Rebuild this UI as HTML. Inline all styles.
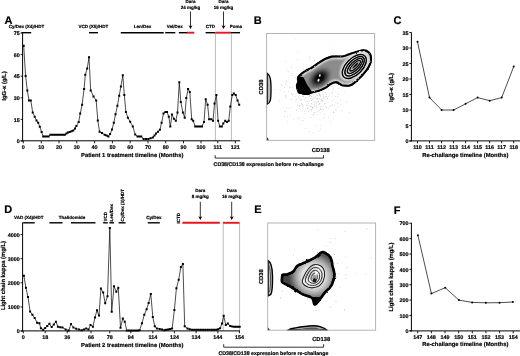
<!DOCTYPE html>
<html><head><meta charset="utf-8"><title>Figure</title>
<style>
html,body{margin:0;padding:0;background:#fff;}
body{width:520px;height:356px;overflow:hidden;}
text{stroke:#000;stroke-width:0.18px;}
svg{display:block;will-change:transform;text-rendering:geometricPrecision;font-family:"Liberation Sans",sans-serif;}
</style></head><body>
<svg width="520" height="356" viewBox="0 0 520 356">
<defs>
<radialGradient id="gCore"><stop offset="0" stop-color="#000"/><stop offset="0.3" stop-color="#111"/><stop offset="0.6" stop-color="#555" stop-opacity="0.9"/><stop offset="1" stop-color="#8c8c8c" stop-opacity="0"/></radialGradient>
<radialGradient id="gNeck"><stop offset="0" stop-color="#707070"/><stop offset="0.5" stop-color="#909090"/><stop offset="1" stop-color="#ececec" stop-opacity="0"/></radialGradient>
<radialGradient id="gHalo"><stop offset="0" stop-color="#888"/><stop offset="0.7" stop-color="#999"/><stop offset="1" stop-color="#ececec" stop-opacity="0"/></radialGradient>
<radialGradient id="gBand"><stop offset="0" stop-color="#6a6a6a"/><stop offset="0.82" stop-color="#6e6e6e"/><stop offset="1" stop-color="#ddd"/></radialGradient>
<radialGradient id="gBandE"><stop offset="0" stop-color="#8a8a8a"/><stop offset="0.8" stop-color="#909090"/><stop offset="1" stop-color="#e8e8e8"/></radialGradient>
<radialGradient id="gR"><stop offset="0" stop-color="#666"/><stop offset="0.75" stop-color="#777"/><stop offset="1" stop-color="#bbb"/></radialGradient>
<radialGradient id="gR2"><stop offset="0" stop-color="#777"/><stop offset="0.8" stop-color="#888"/><stop offset="1" stop-color="#c4c4c4"/></radialGradient>
<radialGradient id="gE" gradientUnits="userSpaceOnUse" cx="313.5" cy="276.5" r="25"><stop offset="0" stop-color="#f2f2f2"/><stop offset="0.45" stop-color="#e2e2e2"/><stop offset="0.68" stop-color="#a8a8a8"/><stop offset="0.88" stop-color="#666"/><stop offset="1" stop-color="#444"/></radialGradient>
<filter id="b03" x="-10%" y="-10%" width="120%" height="120%"><feTurbulence type="fractalNoise" baseFrequency="0.22" numOctaves="2" seed="4" result="n"/><feDisplacementMap in="SourceGraphic" in2="n" scale="2.2" xChannelSelector="R" yChannelSelector="G" result="d"/><feGaussianBlur in="d" stdDeviation="0.3"/></filter>
<filter id="b035" x="-10%" y="-10%" width="120%" height="120%"><feGaussianBlur stdDeviation="0.35"/></filter>
<filter id="b05" x="-30%" y="-30%" width="160%" height="160%"><feGaussianBlur stdDeviation="0.5"/></filter>
<filter id="b1" x="-30%" y="-30%" width="160%" height="160%"><feGaussianBlur stdDeviation="1"/></filter>
<filter id="b15" x="-30%" y="-30%" width="160%" height="160%"><feGaussianBlur stdDeviation="1.6"/></filter>
<filter id="b2" x="-30%" y="-30%" width="160%" height="160%"><feGaussianBlur stdDeviation="2.2"/></filter>
</defs>
<rect width="520" height="356" fill="#fff"/>
<text x="8.5" y="23.8" font-size="11" text-anchor="middle" font-weight="bold">A</text>
<line x1="21.5" y1="32.7" x2="31.2" y2="32.7" stroke="#000" stroke-width="1.4"/>
<line x1="89" y1="32.7" x2="98" y2="32.7" stroke="#000" stroke-width="1.4"/>
<line x1="120.8" y1="32.7" x2="163.7" y2="32.7" stroke="#000" stroke-width="1.4"/>
<line x1="165.2" y1="32.7" x2="175.3" y2="32.7" stroke="#000" stroke-width="1.4"/>
<line x1="178.8" y1="32.7" x2="187" y2="32.7" stroke="#000" stroke-width="1.4"/>
<line x1="187" y1="32.7" x2="194.3" y2="32.7" stroke="#e8151b" stroke-width="1.9"/>
<line x1="205.6" y1="32.7" x2="215.4" y2="32.7" stroke="#000" stroke-width="1.4"/>
<line x1="215.4" y1="32.7" x2="231" y2="32.7" stroke="#e8151b" stroke-width="1.9"/>
<line x1="231" y1="32.7" x2="240" y2="32.7" stroke="#000" stroke-width="1.4"/>
<text x="26.5" y="28.1" font-size="4.5" text-anchor="middle" font-weight="bold">Cy/Dex (X4)/HDT</text>
<text x="93.3" y="28.1" font-size="4.5" text-anchor="middle" font-weight="bold">VCD (X5)/HDT</text>
<text x="142.6" y="28.1" font-size="4.5" text-anchor="middle" font-weight="bold">Len/Dex</text>
<text x="174.7" y="28.1" font-size="4.5" text-anchor="middle" font-weight="bold">Vel/Dex</text>
<text x="210.4" y="28.1" font-size="4.5" text-anchor="middle" font-weight="bold">CTD</text>
<text x="236" y="28.1" font-size="4.5" text-anchor="middle" font-weight="bold">Poma</text>
<text x="190.5" y="3.4" font-size="4.5" text-anchor="middle" font-weight="bold">Dara</text>
<text x="190.5" y="9.1" font-size="4.5" text-anchor="middle" font-weight="bold">24 mg/kg</text>
<text x="223.5" y="3.4" font-size="4.5" text-anchor="middle" font-weight="bold">Dara</text>
<text x="223.5" y="9.1" font-size="4.5" text-anchor="middle" font-weight="bold">16 mg/kg</text>
<line x1="190.5" y1="11.5" x2="190.5" y2="26.9" stroke="#000" stroke-width="0.8"/>
<path d="M188.5 25.299999999999997L190.5 28.9L192.5 25.299999999999997L190.5 26.299999999999997z" fill="#000"/>
<line x1="223.5" y1="11.5" x2="223.5" y2="26.9" stroke="#000" stroke-width="0.8"/>
<path d="M221.5 25.299999999999997L223.5 28.9L225.5 25.299999999999997L223.5 26.299999999999997z" fill="#000"/>
<line x1="215.4" y1="33" x2="215.4" y2="141" stroke="#777" stroke-width="0.5"/>
<line x1="231.4" y1="33" x2="231.4" y2="141" stroke="#777" stroke-width="0.5"/>
<line x1="22.6" y1="32.2" x2="22.6" y2="141.3" stroke="#000" stroke-width="1"/>
<line x1="20.6" y1="140.8" x2="240.2" y2="140.8" stroke="#000" stroke-width="1"/>
<line x1="20.6" y1="141.0" x2="22.6" y2="141.0" stroke="#000" stroke-width="0.9"/>
<text x="19.8" y="143.2" font-size="5.4" text-anchor="end" font-weight="bold">0</text>
<line x1="20.6" y1="119.4" x2="22.6" y2="119.4" stroke="#000" stroke-width="0.9"/>
<text x="19.8" y="121.60000000000001" font-size="5.4" text-anchor="end" font-weight="bold">15</text>
<line x1="20.6" y1="97.80000000000001" x2="22.6" y2="97.80000000000001" stroke="#000" stroke-width="0.9"/>
<text x="19.8" y="100.00000000000001" font-size="5.4" text-anchor="end" font-weight="bold">30</text>
<line x1="20.6" y1="76.2" x2="22.6" y2="76.2" stroke="#000" stroke-width="0.9"/>
<text x="19.8" y="78.4" font-size="5.4" text-anchor="end" font-weight="bold">45</text>
<line x1="20.6" y1="54.60000000000001" x2="22.6" y2="54.60000000000001" stroke="#000" stroke-width="0.9"/>
<text x="19.8" y="56.80000000000001" font-size="5.4" text-anchor="end" font-weight="bold">60</text>
<line x1="20.6" y1="33.0" x2="22.6" y2="33.0" stroke="#000" stroke-width="0.9"/>
<text x="19.8" y="35.2" font-size="5.4" text-anchor="end" font-weight="bold">75</text>
<line x1="23.3" y1="141" x2="23.3" y2="143.3" stroke="#000" stroke-width="0.9"/>
<text x="23.3" y="149.1" font-size="5.4" text-anchor="middle" font-weight="bold">0</text>
<line x1="41.3" y1="141" x2="41.3" y2="143.3" stroke="#000" stroke-width="0.9"/>
<text x="41.3" y="149.1" font-size="5.4" text-anchor="middle" font-weight="bold">10</text>
<line x1="59" y1="141" x2="59" y2="143.3" stroke="#000" stroke-width="0.9"/>
<text x="59" y="149.1" font-size="5.4" text-anchor="middle" font-weight="bold">20</text>
<line x1="76.8" y1="141" x2="76.8" y2="143.3" stroke="#000" stroke-width="0.9"/>
<text x="76.8" y="149.1" font-size="5.4" text-anchor="middle" font-weight="bold">30</text>
<line x1="94.6" y1="141" x2="94.6" y2="143.3" stroke="#000" stroke-width="0.9"/>
<text x="94.6" y="149.1" font-size="5.4" text-anchor="middle" font-weight="bold">40</text>
<line x1="112.4" y1="141" x2="112.4" y2="143.3" stroke="#000" stroke-width="0.9"/>
<text x="112.4" y="149.1" font-size="5.4" text-anchor="middle" font-weight="bold">50</text>
<line x1="130.2" y1="141" x2="130.2" y2="143.3" stroke="#000" stroke-width="0.9"/>
<text x="130.2" y="149.1" font-size="5.4" text-anchor="middle" font-weight="bold">60</text>
<line x1="148" y1="141" x2="148" y2="143.3" stroke="#000" stroke-width="0.9"/>
<text x="148" y="149.1" font-size="5.4" text-anchor="middle" font-weight="bold">70</text>
<line x1="165.7" y1="141" x2="165.7" y2="143.3" stroke="#000" stroke-width="0.9"/>
<text x="165.7" y="149.1" font-size="5.4" text-anchor="middle" font-weight="bold">80</text>
<line x1="183.5" y1="141" x2="183.5" y2="143.3" stroke="#000" stroke-width="0.9"/>
<text x="183.5" y="149.1" font-size="5.4" text-anchor="middle" font-weight="bold">90</text>
<line x1="201" y1="141" x2="201" y2="143.3" stroke="#000" stroke-width="0.9"/>
<text x="201" y="149.1" font-size="5.4" text-anchor="middle" font-weight="bold">100</text>
<line x1="217.8" y1="141" x2="217.8" y2="143.3" stroke="#000" stroke-width="0.9"/>
<text x="217.8" y="149.1" font-size="5.4" text-anchor="middle" font-weight="bold">111</text>
<line x1="235.3" y1="141" x2="235.3" y2="143.3" stroke="#000" stroke-width="0.9"/>
<text x="235.3" y="149.1" font-size="5.4" text-anchor="middle" font-weight="bold">121</text>
<text x="132.2" y="156.8" font-size="5.83" text-anchor="middle" font-weight="bold">Patient 1 treatment timeline (Months)</text>
<text x="5.7" y="86" font-size="5.83" text-anchor="middle" font-weight="bold" transform="rotate(-90 5.7 86)">IgG-κ (g/L)</text>
<polyline fill="none" stroke="#000" stroke-width="0.7" stroke-linejoin="round" points="23.7,45.8 25.6,75.9 27.3,90.4 29.0,100.4 30.8,100.4 32.7,112.5 34.7,116.7 36.5,120.5 38.2,122.8 39.8,126.7 41.6,132.0 43.2,136.4 45.0,136.4 46.8,136.4 48.6,136.4 50.4,134.7 52.2,134.7 54.0,134.7 55.8,134.7 57.6,134.7 59.4,134.7 61.2,134.7 63.0,134.7 64.8,134.7 66.4,133.6 67.9,132.6 69.7,132.0 71.5,131.2 73.3,130.6 75.0,128.5 76.4,126.0 78.7,122.0 80.2,113.6 82.1,104.8 84.1,88.9 85.3,74.8 87.2,68.6 89.0,57.3 90.7,90.4 93.5,96.5 96.2,100.6 97.8,120.5 99.6,131.8 102.0,132.9 104.6,134.7 106.6,135.5 108.4,136.4 110.1,134.1 112.0,129.5 113.8,122.8 115.5,114.3 117.4,105.8 119.2,95.8 120.9,86.5 122.8,75.2 124.3,95.0 125.9,112.0 127.9,117.7 130.2,121.8 132.8,126.4 135.2,134.4 137.5,136.4 139.4,136.4 141.3,136.4 143.6,139.0 146.0,139.0 148.3,139.0 150.6,138.3 152.9,137.5 154.5,135.6 156.0,133.6 158.0,131.7 159.9,129.8 161.6,122.8 163.5,113.6 165.4,112.0 167.0,112.0 168.8,116.7 170.3,126.6 172.0,114.5 173.9,118.8 175.8,120.8 177.5,112.5 179.3,82.2 180.8,102.0 182.9,112.5 184.7,117.7 186.3,98.1 188.1,88.9 189.8,92.0 191.7,119.3 193.2,120.8 195.2,126.4 197.0,126.4 198.7,126.4 200.4,126.4 202.0,126.4 204.0,122.0 205.7,99.2 207.6,104.8 209.1,119.3 211.3,119.3 213.0,120.8 214.5,103.5 216.4,95.0 218.1,120.8 219.9,126.4 221.8,126.4 223.3,123.6 225.2,120.8 226.9,122.0 228.7,120.8 230.3,106.6 232.3,95.0 233.8,93.5 235.7,95.0 237.5,100.4 239.2,104.8"/>
<path d="M22.70 44.80h2.0v2.0h-2.0zM24.60 74.90h2.0v2.0h-2.0zM26.30 89.40h2.0v2.0h-2.0zM28.00 99.40h2.0v2.0h-2.0zM29.80 99.40h2.0v2.0h-2.0zM31.70 111.50h2.0v2.0h-2.0zM33.70 115.70h2.0v2.0h-2.0zM35.50 119.50h2.0v2.0h-2.0zM37.20 121.80h2.0v2.0h-2.0zM38.80 125.70h2.0v2.0h-2.0zM40.60 131.00h2.0v2.0h-2.0zM42.20 135.40h2.0v2.0h-2.0zM44.00 135.40h2.0v2.0h-2.0zM45.80 135.40h2.0v2.0h-2.0zM47.60 135.40h2.0v2.0h-2.0zM49.40 133.70h2.0v2.0h-2.0zM51.20 133.70h2.0v2.0h-2.0zM53.00 133.70h2.0v2.0h-2.0zM54.80 133.70h2.0v2.0h-2.0zM56.60 133.70h2.0v2.0h-2.0zM58.40 133.70h2.0v2.0h-2.0zM60.20 133.70h2.0v2.0h-2.0zM62.00 133.70h2.0v2.0h-2.0zM63.80 133.70h2.0v2.0h-2.0zM65.40 132.60h2.0v2.0h-2.0zM66.90 131.60h2.0v2.0h-2.0zM68.70 131.00h2.0v2.0h-2.0zM70.50 130.20h2.0v2.0h-2.0zM72.30 129.60h2.0v2.0h-2.0zM74.00 127.50h2.0v2.0h-2.0zM75.40 125.00h2.0v2.0h-2.0zM77.70 121.00h2.0v2.0h-2.0zM79.20 112.60h2.0v2.0h-2.0zM81.10 103.80h2.0v2.0h-2.0zM83.10 87.90h2.0v2.0h-2.0zM84.30 73.80h2.0v2.0h-2.0zM86.20 67.60h2.0v2.0h-2.0zM88.00 56.30h2.0v2.0h-2.0zM89.70 89.40h2.0v2.0h-2.0zM92.50 95.50h2.0v2.0h-2.0zM95.20 99.60h2.0v2.0h-2.0zM96.80 119.50h2.0v2.0h-2.0zM98.60 130.80h2.0v2.0h-2.0zM101.00 131.90h2.0v2.0h-2.0zM103.60 133.70h2.0v2.0h-2.0zM105.60 134.50h2.0v2.0h-2.0zM107.40 135.40h2.0v2.0h-2.0zM109.10 133.10h2.0v2.0h-2.0zM111.00 128.50h2.0v2.0h-2.0zM112.80 121.80h2.0v2.0h-2.0zM114.50 113.30h2.0v2.0h-2.0zM116.40 104.80h2.0v2.0h-2.0zM118.20 94.80h2.0v2.0h-2.0zM119.90 85.50h2.0v2.0h-2.0zM121.80 74.20h2.0v2.0h-2.0zM123.30 94.00h2.0v2.0h-2.0zM124.90 111.00h2.0v2.0h-2.0zM126.90 116.70h2.0v2.0h-2.0zM129.20 120.80h2.0v2.0h-2.0zM131.80 125.40h2.0v2.0h-2.0zM134.20 133.40h2.0v2.0h-2.0zM136.50 135.40h2.0v2.0h-2.0zM138.40 135.40h2.0v2.0h-2.0zM140.30 135.40h2.0v2.0h-2.0zM142.60 138.00h2.0v2.0h-2.0zM145.00 138.00h2.0v2.0h-2.0zM147.30 138.00h2.0v2.0h-2.0zM149.60 137.30h2.0v2.0h-2.0zM151.90 136.50h2.0v2.0h-2.0zM153.50 134.60h2.0v2.0h-2.0zM155.00 132.60h2.0v2.0h-2.0zM157.00 130.70h2.0v2.0h-2.0zM158.90 128.80h2.0v2.0h-2.0zM160.60 121.80h2.0v2.0h-2.0zM162.50 112.60h2.0v2.0h-2.0zM164.40 111.00h2.0v2.0h-2.0zM166.00 111.00h2.0v2.0h-2.0zM167.80 115.70h2.0v2.0h-2.0zM169.30 125.60h2.0v2.0h-2.0zM171.00 113.50h2.0v2.0h-2.0zM172.90 117.80h2.0v2.0h-2.0zM174.80 119.80h2.0v2.0h-2.0zM176.50 111.50h2.0v2.0h-2.0zM178.30 81.20h2.0v2.0h-2.0zM179.80 101.00h2.0v2.0h-2.0zM181.90 111.50h2.0v2.0h-2.0zM183.70 116.70h2.0v2.0h-2.0zM185.30 97.10h2.0v2.0h-2.0zM187.10 87.90h2.0v2.0h-2.0zM188.80 91.00h2.0v2.0h-2.0zM190.70 118.30h2.0v2.0h-2.0zM192.20 119.80h2.0v2.0h-2.0zM194.20 125.40h2.0v2.0h-2.0zM196.00 125.40h2.0v2.0h-2.0zM197.70 125.40h2.0v2.0h-2.0zM199.40 125.40h2.0v2.0h-2.0zM201.00 125.40h2.0v2.0h-2.0zM203.00 121.00h2.0v2.0h-2.0zM204.70 98.20h2.0v2.0h-2.0zM206.60 103.80h2.0v2.0h-2.0zM208.10 118.30h2.0v2.0h-2.0zM210.30 118.30h2.0v2.0h-2.0zM212.00 119.80h2.0v2.0h-2.0zM213.50 102.50h2.0v2.0h-2.0zM215.40 94.00h2.0v2.0h-2.0zM217.10 119.80h2.0v2.0h-2.0zM218.90 125.40h2.0v2.0h-2.0zM220.80 125.40h2.0v2.0h-2.0zM222.30 122.60h2.0v2.0h-2.0zM224.20 119.80h2.0v2.0h-2.0zM225.90 121.00h2.0v2.0h-2.0zM227.70 119.80h2.0v2.0h-2.0zM229.30 105.60h2.0v2.0h-2.0zM231.30 94.00h2.0v2.0h-2.0zM232.80 92.50h2.0v2.0h-2.0zM234.70 94.00h2.0v2.0h-2.0zM236.50 99.40h2.0v2.0h-2.0zM238.20 103.80h2.0v2.0h-2.0z" fill="#000"/>
<path d="M215.2 155.2V158.1H323.5V155.2" fill="none" stroke="#000" stroke-width="0.8"/>
<text x="268.6" y="166.2" font-size="5.24" text-anchor="middle" font-weight="bold">CD38/CD138 expression before re-challange</text>
<text x="257.8" y="23.6" font-size="11" text-anchor="middle" font-weight="bold">B</text>
<text x="320.8" y="152.1" font-size="5.8" text-anchor="middle" font-weight="bold">CD138</text>
<text x="262.8" y="87" font-size="5.8" text-anchor="middle" font-weight="bold" transform="rotate(-90 262.8 87)">CD38</text>
<g id="pB">
<path d="M308.4 103.2h.7v.7h-.7zM308.8 91.6h.7v.7h-.7zM299.0 93.0h.7v.7h-.7zM327.6 101.9h.7v.7h-.7zM326.5 99.5h.7v.7h-.7zM317.5 98.6h.7v.7h-.7zM288.7 108.0h.7v.7h-.7zM319.1 103.0h.7v.7h-.7zM288.3 71.6h.7v.7h-.7zM299.5 89.4h.7v.7h-.7zM316.3 95.4h.7v.7h-.7zM319.3 87.0h.7v.7h-.7zM316.3 101.5h.7v.7h-.7zM302.7 120.0h.7v.7h-.7zM319.8 112.8h.7v.7h-.7zM303.3 85.6h.7v.7h-.7zM307.2 94.5h.7v.7h-.7zM320.8 99.5h.7v.7h-.7zM305.7 82.6h.7v.7h-.7zM304.7 113.1h.7v.7h-.7zM300.7 99.4h.7v.7h-.7zM318.0 75.1h.7v.7h-.7zM312.7 114.3h.7v.7h-.7zM283.8 91.5h.7v.7h-.7zM310.5 84.6h.7v.7h-.7zM319.0 95.1h.7v.7h-.7zM291.5 107.6h.7v.7h-.7zM321.4 109.2h.7v.7h-.7zM332.2 101.1h.7v.7h-.7zM313.7 77.8h.7v.7h-.7zM320.6 87.4h.7v.7h-.7zM305.7 78.3h.7v.7h-.7zM298.5 88.6h.7v.7h-.7zM330.0 67.6h.7v.7h-.7zM291.6 99.4h.7v.7h-.7zM332.2 104.1h.7v.7h-.7zM285.4 60.7h.7v.7h-.7zM317.0 85.7h.7v.7h-.7zM296.3 109.7h.7v.7h-.7zM327.4 98.2h.7v.7h-.7zM315.4 102.1h.7v.7h-.7zM334.3 104.7h.7v.7h-.7zM319.3 103.7h.7v.7h-.7zM290.0 113.9h.7v.7h-.7zM325.4 103.4h.7v.7h-.7zM284.4 87.1h.7v.7h-.7zM323.8 70.6h.7v.7h-.7zM309.4 110.3h.7v.7h-.7zM293.6 118.5h.7v.7h-.7zM319.7 93.9h.7v.7h-.7zM316.5 105.1h.7v.7h-.7zM313.7 112.0h.7v.7h-.7zM302.7 90.2h.7v.7h-.7zM326.6 96.4h.7v.7h-.7zM299.7 109.3h.7v.7h-.7zM332.5 89.8h.7v.7h-.7zM292.7 94.1h.7v.7h-.7zM309.9 91.8h.7v.7h-.7zM331.7 81.6h.7v.7h-.7zM329.6 78.2h.7v.7h-.7zM301.0 104.8h.7v.7h-.7zM327.8 108.0h.7v.7h-.7zM316.8 98.0h.7v.7h-.7zM314.1 104.1h.7v.7h-.7zM309.5 99.9h.7v.7h-.7zM320.0 96.0h.7v.7h-.7zM322.7 103.9h.7v.7h-.7zM340.1 100.5h.7v.7h-.7zM306.0 90.8h.7v.7h-.7zM311.8 108.9h.7v.7h-.7zM307.3 101.4h.7v.7h-.7zM337.7 60.1h.7v.7h-.7zM296.3 99.4h.7v.7h-.7zM317.6 99.3h.7v.7h-.7zM306.0 105.2h.7v.7h-.7zM315.9 88.7h.7v.7h-.7zM346.0 101.0h.7v.7h-.7zM304.2 94.6h.7v.7h-.7zM308.8 95.1h.7v.7h-.7zM273.8 89.2h.7v.7h-.7zM326.1 79.6h.7v.7h-.7zM311.1 109.3h.7v.7h-.7zM324.0 116.9h.7v.7h-.7zM288.2 91.1h.7v.7h-.7zM307.2 104.7h.7v.7h-.7zM327.3 58.4h.7v.7h-.7zM327.2 75.7h.7v.7h-.7zM321.6 75.1h.7v.7h-.7zM314.5 112.7h.7v.7h-.7zM309.9 98.7h.7v.7h-.7zM323.2 98.0h.7v.7h-.7zM310.8 117.5h.7v.7h-.7zM326.7 91.9h.7v.7h-.7zM350.4 79.9h.7v.7h-.7zM324.8 92.3h.7v.7h-.7zM313.9 105.9h.7v.7h-.7zM315.1 104.9h.7v.7h-.7zM290.6 74.9h.7v.7h-.7zM320.6 82.5h.7v.7h-.7zM297.6 75.4h.7v.7h-.7zM329.7 106.5h.7v.7h-.7zM332.6 82.9h.7v.7h-.7zM312.0 80.0h.7v.7h-.7zM322.7 118.3h.7v.7h-.7zM299.5 117.8h.7v.7h-.7zM325.8 93.5h.7v.7h-.7zM284.4 115.7h.7v.7h-.7zM310.7 87.6h.7v.7h-.7zM317.6 101.7h.7v.7h-.7zM333.0 81.7h.7v.7h-.7zM327.9 116.8h.7v.7h-.7zM332.3 93.5h.7v.7h-.7zM301.6 110.3h.7v.7h-.7zM313.6 97.7h.7v.7h-.7zM331.9 92.3h.7v.7h-.7zM279.8 90.6h.7v.7h-.7zM286.0 107.5h.7v.7h-.7zM316.4 87.4h.7v.7h-.7zM311.9 107.7h.7v.7h-.7zM313.1 114.6h.7v.7h-.7zM311.1 110.6h.7v.7h-.7zM332.9 118.5h.7v.7h-.7zM302.6 108.3h.7v.7h-.7zM285.7 80.8h.7v.7h-.7zM284.5 111.0h.7v.7h-.7zM294.8 95.8h.7v.7h-.7zM309.3 95.6h.7v.7h-.7zM303.7 99.3h.7v.7h-.7zM337.1 96.6h.7v.7h-.7zM319.4 110.0h.7v.7h-.7zM309.2 78.4h.7v.7h-.7zM304.2 111.0h.7v.7h-.7zM289.0 87.6h.7v.7h-.7zM326.1 107.1h.7v.7h-.7zM312.1 107.3h.7v.7h-.7zM314.3 79.5h.7v.7h-.7zM290.1 87.1h.7v.7h-.7zM324.9 88.1h.7v.7h-.7zM299.4 85.2h.7v.7h-.7zM290.6 94.4h.7v.7h-.7zM295.5 101.1h.7v.7h-.7zM279.0 100.6h.7v.7h-.7zM303.0 68.8h.7v.7h-.7zM322.1 92.1h.7v.7h-.7zM280.8 83.7h.7v.7h-.7zM316.1 89.6h.7v.7h-.7zM322.9 106.5h.7v.7h-.7zM321.3 100.6h.7v.7h-.7zM330.7 105.2h.7v.7h-.7zM318.3 66.8h.7v.7h-.7zM324.6 114.3h.7v.7h-.7zM307.8 89.4h.7v.7h-.7zM339.2 71.4h.7v.7h-.7zM318.6 129.9h.7v.7h-.7zM299.0 105.7h.7v.7h-.7zM338.4 94.3h.7v.7h-.7zM319.9 108.6h.7v.7h-.7zM299.3 94.8h.7v.7h-.7zM316.1 107.6h.7v.7h-.7zM311.5 93.3h.7v.7h-.7zM297.8 91.0h.7v.7h-.7zM324.5 97.4h.7v.7h-.7zM300.1 84.2h.7v.7h-.7zM349.3 112.0h.7v.7h-.7zM320.9 59.7h.7v.7h-.7zM320.7 102.7h.7v.7h-.7zM335.6 102.0h.7v.7h-.7zM311.1 103.3h.7v.7h-.7zM284.8 110.5h.7v.7h-.7zM316.5 86.2h.7v.7h-.7zM330.6 121.3h.7v.7h-.7zM292.4 86.7h.7v.7h-.7zM316.1 98.6h.7v.7h-.7zM306.4 82.4h.7v.7h-.7zM341.7 110.5h.7v.7h-.7zM295.3 77.2h.7v.7h-.7zM335.8 109.8h.7v.7h-.7zM337.5 107.3h.7v.7h-.7zM299.8 99.6h.7v.7h-.7zM281.8 85.5h.7v.7h-.7zM311.2 103.3h.7v.7h-.7zM301.8 94.3h.7v.7h-.7zM318.4 101.3h.7v.7h-.7zM320.9 98.9h.7v.7h-.7zM307.5 107.0h.7v.7h-.7zM312.7 84.4h.7v.7h-.7zM303.2 96.0h.7v.7h-.7zM310.5 98.2h.7v.7h-.7zM312.0 98.5h.7v.7h-.7zM310.1 78.4h.7v.7h-.7zM317.9 110.8h.7v.7h-.7zM318.1 93.4h.7v.7h-.7zM318.3 82.5h.7v.7h-.7zM285.5 96.8h.7v.7h-.7zM299.0 106.4h.7v.7h-.7zM296.8 59.2h.7v.7h-.7zM297.4 118.1h.7v.7h-.7zM306.7 76.8h.7v.7h-.7zM301.3 103.3h.7v.7h-.7zM319.0 98.5h.7v.7h-.7zM332.8 105.9h.7v.7h-.7zM311.7 104.4h.7v.7h-.7zM335.2 109.6h.7v.7h-.7zM326.3 80.8h.7v.7h-.7zM309.9 106.2h.7v.7h-.7zM307.8 111.0h.7v.7h-.7zM320.3 108.7h.7v.7h-.7zM309.0 131.6h.7v.7h-.7zM329.4 93.0h.7v.7h-.7zM313.3 132.3h.7v.7h-.7zM307.2 108.2h.7v.7h-.7zM325.7 96.1h.7v.7h-.7zM295.7 98.6h.7v.7h-.7zM317.0 111.8h.7v.7h-.7zM323.0 96.3h.7v.7h-.7zM324.0 103.6h.7v.7h-.7zM314.9 96.8h.7v.7h-.7zM308.6 105.6h.7v.7h-.7zM297.2 87.2h.7v.7h-.7zM312.1 75.5h.7v.7h-.7zM305.9 67.9h.7v.7h-.7zM302.4 104.0h.7v.7h-.7zM319.9 95.2h.7v.7h-.7zM308.8 76.2h.7v.7h-.7zM337.6 103.2h.7v.7h-.7zM327.3 83.6h.7v.7h-.7zM309.4 70.5h.7v.7h-.7zM322.9 109.1h.7v.7h-.7zM285.4 95.3h.7v.7h-.7zM320.8 71.3h.7v.7h-.7zM286.4 81.1h.7v.7h-.7zM303.2 76.4h.7v.7h-.7zM312.4 99.5h.7v.7h-.7zM320.9 105.8h.7v.7h-.7zM333.0 112.3h.7v.7h-.7zM293.6 88.9h.7v.7h-.7zM297.2 80.9h.7v.7h-.7zM310.9 96.1h.7v.7h-.7zM318.9 73.8h.7v.7h-.7zM294.7 95.7h.7v.7h-.7zM309.2 91.6h.7v.7h-.7zM311.1 85.4h.7v.7h-.7zM321.8 101.0h.7v.7h-.7zM310.8 86.6h.7v.7h-.7zM309.6 57.9h.7v.7h-.7zM298.3 96.5h.7v.7h-.7zM290.9 98.8h.7v.7h-.7zM314.1 76.7h.7v.7h-.7zM308.5 91.6h.7v.7h-.7zM318.4 104.6h.7v.7h-.7zM311.5 84.1h.7v.7h-.7zM310.0 95.1h.7v.7h-.7zM322.3 100.1h.7v.7h-.7zM301.9 77.0h.7v.7h-.7zM306.8 85.6h.7v.7h-.7zM296.4 94.4h.7v.7h-.7zM305.1 97.5h.7v.7h-.7zM319.3 90.2h.7v.7h-.7zM344.5 91.5h.7v.7h-.7zM327.4 97.7h.7v.7h-.7zM327.6 62.7h.7v.7h-.7zM301.5 99.5h.7v.7h-.7zM320.4 128.7h.7v.7h-.7zM316.5 113.9h.7v.7h-.7zM322.7 109.3h.7v.7h-.7zM319.1 93.8h.7v.7h-.7zM319.1 80.9h.7v.7h-.7zM328.5 81.8h.7v.7h-.7zM315.5 125.7h.7v.7h-.7zM308.9 96.3h.7v.7h-.7zM328.3 96.4h.7v.7h-.7zM300.7 99.6h.7v.7h-.7zM320.1 105.9h.7v.7h-.7zM301.2 120.5h.7v.7h-.7zM335.3 96.3h.7v.7h-.7zM315.8 90.0h.7v.7h-.7zM331.8 86.1h.7v.7h-.7zM321.4 89.3h.7v.7h-.7zM302.3 106.1h.7v.7h-.7zM330.7 95.9h.7v.7h-.7zM302.5 107.4h.7v.7h-.7zM311.3 100.3h.7v.7h-.7zM333.3 111.8h.7v.7h-.7zM304.7 128.0h.7v.7h-.7zM312.0 107.0h.7v.7h-.7zM302.9 95.4h.7v.7h-.7zM287.5 121.0h.7v.7h-.7zM331.1 79.0h.7v.7h-.7zM290.9 73.3h.7v.7h-.7zM328.5 89.6h.7v.7h-.7zM311.2 91.6h.7v.7h-.7zM310.3 80.8h.7v.7h-.7zM312.3 75.9h.7v.7h-.7zM311.0 100.3h.7v.7h-.7zM318.5 92.8h.7v.7h-.7zM299.3 98.2h.7v.7h-.7zM305.2 117.9h.7v.7h-.7zM322.7 94.4h.7v.7h-.7zM305.4 86.2h.7v.7h-.7zM298.9 91.1h.7v.7h-.7zM316.1 103.2h.7v.7h-.7zM320.0 125.4h.7v.7h-.7zM302.1 96.2h.7v.7h-.7zM351.1 69.9h.7v.7h-.7zM304.7 98.4h.7v.7h-.7zM314.2 101.7h.7v.7h-.7zM308.7 101.1h.7v.7h-.7zM312.7 106.8h.7v.7h-.7zM285.5 83.6h.7v.7h-.7zM312.0 81.6h.7v.7h-.7zM297.4 104.8h.7v.7h-.7zM302.9 104.9h.7v.7h-.7zM322.4 100.3h.7v.7h-.7zM319.1 94.5h.7v.7h-.7zM292.3 95.6h.7v.7h-.7zM318.4 88.6h.7v.7h-.7zM310.6 106.5h.7v.7h-.7zM299.7 105.0h.7v.7h-.7zM338.1 88.2h.7v.7h-.7zM314.1 93.9h.7v.7h-.7zM333.6 100.4h.7v.7h-.7zM324.6 86.3h.7v.7h-.7zM311.8 95.9h.7v.7h-.7zM287.1 116.2h.7v.7h-.7zM324.6 71.5h.7v.7h-.7zM322.4 94.2h.7v.7h-.7zM318.3 101.1h.7v.7h-.7zM291.0 93.0h.7v.7h-.7zM332.9 88.0h.7v.7h-.7zM297.7 77.0h.7v.7h-.7zM293.1 75.4h.7v.7h-.7zM357.2 76.9h.7v.7h-.7zM325.4 105.7h.7v.7h-.7zM308.6 59.2h.7v.7h-.7zM331.6 78.8h.7v.7h-.7zM297.7 51.3h.7v.7h-.7zM326.4 74.0h.7v.7h-.7zM291.2 66.8h.7v.7h-.7zM308.1 77.4h.7v.7h-.7zM317.4 68.6h.7v.7h-.7zM312.2 86.9h.7v.7h-.7zM350.6 64.1h.7v.7h-.7zM338.6 57.9h.7v.7h-.7zM321.6 82.0h.7v.7h-.7zM353.3 63.9h.7v.7h-.7zM318.4 73.1h.7v.7h-.7zM287.0 70.3h.7v.7h-.7zM305.1 75.9h.7v.7h-.7zM295.1 38.4h.7v.7h-.7zM320.8 74.2h.7v.7h-.7zM307.9 84.2h.7v.7h-.7zM314.0 60.3h.7v.7h-.7zM330.5 44.9h.7v.7h-.7zM305.1 69.7h.7v.7h-.7zM338.7 67.4h.7v.7h-.7zM326.8 59.5h.7v.7h-.7zM326.6 96.6h.7v.7h-.7zM304.9 107.9h.7v.7h-.7zM305.8 70.3h.7v.7h-.7zM323.8 86.4h.7v.7h-.7zM292.8 36.4h.7v.7h-.7zM333.3 82.7h.7v.7h-.7zM333.7 112.1h.7v.7h-.7zM324.5 74.1h.7v.7h-.7zM340.4 75.9h.7v.7h-.7zM356.6 50.2h.7v.7h-.7zM337.9 64.0h.7v.7h-.7zM340.3 104.5h.7v.7h-.7zM319.9 65.9h.7v.7h-.7zM309.0 56.6h.7v.7h-.7zM306.1 80.2h.7v.7h-.7zM320.8 71.1h.7v.7h-.7zM316.2 84.6h.7v.7h-.7zM330.9 67.7h.7v.7h-.7zM334.6 67.6h.7v.7h-.7zM294.6 93.3h.7v.7h-.7zM330.2 54.7h.7v.7h-.7zM343.7 75.5h.7v.7h-.7zM285.6 95.8h.7v.7h-.7zM327.3 84.3h.7v.7h-.7zM324.4 67.6h.7v.7h-.7zM285.9 85.5h.7v.7h-.7zM320.7 65.4h.7v.7h-.7zM327.7 71.2h.7v.7h-.7zM334.9 64.1h.7v.7h-.7zM310.7 80.8h.7v.7h-.7zM349.4 64.2h.7v.7h-.7zM317.3 95.3h.7v.7h-.7z" fill="#555" opacity="0.38"/>
<path d="M297 86.5 C296.5 84 298.6 83.2 298.6 81.2 C298 79.6 297 78.2 299 76.2 C301 74 303.5 72.4 305.4 71.1 C307.5 69.8 309.2 69.3 311.1 68.3 C313.5 66.8 316 64.8 318.1 63.3 C320.5 61.8 322.8 60.2 325.1 59.1 C327.5 58 329.5 57 332.1 56.7 C336 56.3 340 56.9 343.5 56.4 C347 55.6 349 54.3 352 53.4 C355 52.4 358 51.3 361.5 50.6 C364.5 50.2 367 50.7 368.8 52.6 C370.6 54.5 371.2 57 371 59.8 C370.6 63.5 368.8 66.8 366.5 70 C364 73.6 360 77.8 356.3 81 C354 83.2 352 85.4 348.5 85.6 C346 85.7 344.2 85.5 342.2 85.2 C340 84.2 338.6 82.4 336.3 82 C334 82 332.4 82.8 330.7 83.9 C328.8 85.2 327 86.6 325.1 87.9 C322.8 89.2 320.6 90.2 318.1 90.9 C315.5 91.6 313.5 91.8 311.1 92.5 C309.6 93.4 308.5 94 306.9 93.9 C304.5 94.2 302 93.6 299.8 92.6 C298 91.2 297.3 89 297 86.5Z" fill="#000" stroke="#000" stroke-width="2.2" stroke-linejoin="round"/>
<clipPath id="cB"><path d="M297 86.5 C296.5 84 298.6 83.2 298.6 81.2 C298 79.6 297 78.2 299 76.2 C301 74 303.5 72.4 305.4 71.1 C307.5 69.8 309.2 69.3 311.1 68.3 C313.5 66.8 316 64.8 318.1 63.3 C320.5 61.8 322.8 60.2 325.1 59.1 C327.5 58 329.5 57 332.1 56.7 C336 56.3 340 56.9 343.5 56.4 C347 55.6 349 54.3 352 53.4 C355 52.4 358 51.3 361.5 50.6 C364.5 50.2 367 50.7 368.8 52.6 C370.6 54.5 371.2 57 371 59.8 C370.6 63.5 368.8 66.8 366.5 70 C364 73.6 360 77.8 356.3 81 C354 83.2 352 85.4 348.5 85.6 C346 85.7 344.2 85.5 342.2 85.2 C340 84.2 338.6 82.4 336.3 82 C334 82 332.4 82.8 330.7 83.9 C328.8 85.2 327 86.6 325.1 87.9 C322.8 89.2 320.6 90.2 318.1 90.9 C315.5 91.6 313.5 91.8 311.1 92.5 C309.6 93.4 308.5 94 306.9 93.9 C304.5 94.2 302 93.6 299.8 92.6 C298 91.2 297.3 89 297 86.5Z"/></clipPath>
<g clip-path="url(#cB)">
<rect x="290" y="45" width="90" height="55" fill="#e4e4e4"/>
<path d="M297 86.5 C296.5 84 298.6 83.2 298.6 81.2 C298 79.6 297 78.2 299 76.2 C301 74 303.5 72.4 305.4 71.1 C307.5 69.8 309.2 69.3 311.1 68.3 C313.5 66.8 316 64.8 318.1 63.3 C320.5 61.8 322.8 60.2 325.1 59.1 C327.5 58 329.5 57 332.1 56.7 C336 56.3 340 56.9 343.5 56.4 C347 55.6 349 54.3 352 53.4 C355 52.4 358 51.3 361.5 50.6 C364.5 50.2 367 50.7 368.8 52.6 C370.6 54.5 371.2 57 371 59.8 C370.6 63.5 368.8 66.8 366.5 70 C364 73.6 360 77.8 356.3 81 C354 83.2 352 85.4 348.5 85.6 C346 85.7 344.2 85.5 342.2 85.2 C340 84.2 338.6 82.4 336.3 82 C334 82 332.4 82.8 330.7 83.9 C328.8 85.2 327 86.6 325.1 87.9 C322.8 89.2 320.6 90.2 318.1 90.9 C315.5 91.6 313.5 91.8 311.1 92.5 C309.6 93.4 308.5 94 306.9 93.9 C304.5 94.2 302 93.6 299.8 92.6 C298 91.2 297.3 89 297 86.5Z" fill="#8c8c8c" stroke="#e4e4e4" stroke-width="4.6" filter="url(#b1)"/>
<ellipse cx="319.6" cy="78" rx="16" ry="11" transform="rotate(-38 319.6 78)" fill="url(#gCore)"/>
<path d="M294 74 L303.6 77.6 L307 84.5 L311.6 91 L312 97 L292 97Z" fill="#000" filter="url(#b05)"/>
<g filter="url(#b035)"><g transform="rotate(-45 354.3 66.5)">
<ellipse cx="354.3" cy="66.5" rx="17.5" ry="10.4" fill="#ececec" filter="url(#b1)"/>
<ellipse cx="354.3" cy="66.5" rx="14.8" ry="8.2" fill="#f0f0f0" stroke="#000" stroke-width="1.5"/>
<ellipse cx="354.5" cy="66.5" rx="13.5" ry="7.0" fill="url(#gBand)"/>
<ellipse cx="354.7" cy="66.5" rx="12.3" ry="6.0" fill="#eee" stroke="#000" stroke-width="1.45"/>
<ellipse cx="354.90000000000003" cy="66.5" rx="11.0" ry="4.9" fill="url(#gBand)"/>
<ellipse cx="355.1" cy="66.5" rx="9.8" ry="4.0" fill="#eaeaea" stroke="#000" stroke-width="1.4"/>
<ellipse cx="355.3" cy="66.5" rx="8.5" ry="3.0" fill="url(#gBand)"/>
<ellipse cx="355.5" cy="66.5" rx="7.0" ry="2.2" fill="#ddd" stroke="#000" stroke-width="1.3"/>
<ellipse cx="355.7" cy="66.5" rx="5.6" ry="1.3" fill="#8a8a8a"/>
<ellipse cx="355.8" cy="66.5" rx="3.6" ry="0.75" fill="#000"/>
</g></g>
<ellipse cx="318.5" cy="80.3" rx="0.95" ry="1.55" fill="#fff" transform="rotate(18 318.5 80.3)"/>
<ellipse cx="319.8" cy="75.5" rx="0.85" ry="1.2" fill="#fff" transform="rotate(20 319.8 75.5)"/>
</g>
<path d="M297 86.5 C296.5 84 298.6 83.2 298.6 81.2 C298 79.6 297 78.2 299 76.2 C301 74 303.5 72.4 305.4 71.1 C307.5 69.8 309.2 69.3 311.1 68.3 C313.5 66.8 316 64.8 318.1 63.3 C320.5 61.8 322.8 60.2 325.1 59.1 C327.5 58 329.5 57 332.1 56.7 C336 56.3 340 56.9 343.5 56.4 C347 55.6 349 54.3 352 53.4 C355 52.4 358 51.3 361.5 50.6 C364.5 50.2 367 50.7 368.8 52.6 C370.6 54.5 371.2 57 371 59.8 C370.6 63.5 368.8 66.8 366.5 70 C364 73.6 360 77.8 356.3 81 C354 83.2 352 85.4 348.5 85.6 C346 85.7 344.2 85.5 342.2 85.2 C340 84.2 338.6 82.4 336.3 82 C334 82 332.4 82.8 330.7 83.9 C328.8 85.2 327 86.6 325.1 87.9 C322.8 89.2 320.6 90.2 318.1 90.9 C315.5 91.6 313.5 91.8 311.1 92.5 C309.6 93.4 308.5 94 306.9 93.9 C304.5 94.2 302 93.6 299.8 92.6 C298 91.2 297.3 89 297 86.5Z" fill="none" stroke="#000" stroke-width="1.9" stroke-linejoin="round" filter="url(#b03)"/>
<path d="M267.2 73.2 C270 74.8 271 79 271 86 C271 92 271.3 97 270.2 100.6 C269.5 102.8 268.5 103.8 267.2 104.2Z" fill="#bbb" stroke="#000" stroke-width="1.3"/>
<path d="M267 137.3 L268.8 139.8 L267 140Z" fill="#000"/>
<rect x="266.6" y="33.5" width="108" height="106.9" fill="none" stroke="#b4b4b4" stroke-width="1.0"/>
</g>
<text x="397.4" y="23.9" font-size="11" text-anchor="middle" font-weight="bold">C</text>
<line x1="411.4" y1="32.4" x2="411.4" y2="141.4" stroke="#000" stroke-width="1"/>
<line x1="409.4" y1="140.9" x2="520" y2="140.9" stroke="#000" stroke-width="1"/>
<line x1="409.4" y1="141.0" x2="411.4" y2="141.0" stroke="#000" stroke-width="0.9"/>
<text x="408.6" y="143.2" font-size="5.4" text-anchor="end" font-weight="bold">0</text>
<line x1="409.4" y1="125.5" x2="411.4" y2="125.5" stroke="#000" stroke-width="0.9"/>
<text x="408.6" y="127.7" font-size="5.4" text-anchor="end" font-weight="bold">5</text>
<line x1="409.4" y1="110.0" x2="411.4" y2="110.0" stroke="#000" stroke-width="0.9"/>
<text x="408.6" y="112.2" font-size="5.4" text-anchor="end" font-weight="bold">10</text>
<line x1="409.4" y1="94.5" x2="411.4" y2="94.5" stroke="#000" stroke-width="0.9"/>
<text x="408.6" y="96.7" font-size="5.4" text-anchor="end" font-weight="bold">15</text>
<line x1="409.4" y1="79.0" x2="411.4" y2="79.0" stroke="#000" stroke-width="0.9"/>
<text x="408.6" y="81.2" font-size="5.4" text-anchor="end" font-weight="bold">20</text>
<line x1="409.4" y1="63.5" x2="411.4" y2="63.5" stroke="#000" stroke-width="0.9"/>
<text x="408.6" y="65.7" font-size="5.4" text-anchor="end" font-weight="bold">25</text>
<line x1="409.4" y1="48.0" x2="411.4" y2="48.0" stroke="#000" stroke-width="0.9"/>
<text x="408.6" y="50.2" font-size="5.4" text-anchor="end" font-weight="bold">30</text>
<line x1="409.4" y1="32.5" x2="411.4" y2="32.5" stroke="#000" stroke-width="0.9"/>
<text x="408.6" y="34.7" font-size="5.4" text-anchor="end" font-weight="bold">35</text>
<line x1="417.5" y1="141" x2="417.5" y2="143.3" stroke="#000" stroke-width="0.9"/>
<text x="417.5" y="149.1" font-size="5.4" text-anchor="middle" font-weight="bold">110</text>
<line x1="429.53" y1="141" x2="429.53" y2="143.3" stroke="#000" stroke-width="0.9"/>
<text x="429.53" y="149.1" font-size="5.4" text-anchor="middle" font-weight="bold">111</text>
<line x1="441.56" y1="141" x2="441.56" y2="143.3" stroke="#000" stroke-width="0.9"/>
<text x="441.56" y="149.1" font-size="5.4" text-anchor="middle" font-weight="bold">112</text>
<line x1="453.59" y1="141" x2="453.59" y2="143.3" stroke="#000" stroke-width="0.9"/>
<text x="453.59" y="149.1" font-size="5.4" text-anchor="middle" font-weight="bold">113</text>
<line x1="465.62" y1="141" x2="465.62" y2="143.3" stroke="#000" stroke-width="0.9"/>
<text x="465.62" y="149.1" font-size="5.4" text-anchor="middle" font-weight="bold">114</text>
<line x1="477.65" y1="141" x2="477.65" y2="143.3" stroke="#000" stroke-width="0.9"/>
<text x="477.65" y="149.1" font-size="5.4" text-anchor="middle" font-weight="bold">115</text>
<line x1="489.68" y1="141" x2="489.68" y2="143.3" stroke="#000" stroke-width="0.9"/>
<text x="489.68" y="149.1" font-size="5.4" text-anchor="middle" font-weight="bold">116</text>
<line x1="501.71" y1="141" x2="501.71" y2="143.3" stroke="#000" stroke-width="0.9"/>
<text x="501.71" y="149.1" font-size="5.4" text-anchor="middle" font-weight="bold">117</text>
<line x1="513.74" y1="141" x2="513.74" y2="143.3" stroke="#000" stroke-width="0.9"/>
<text x="513.74" y="149.1" font-size="5.4" text-anchor="middle" font-weight="bold">118</text>
<text x="465.3" y="156.8" font-size="5.83" text-anchor="middle" font-weight="bold">Re-challange timeline (Months)</text>
<text x="393.3" y="87.5" font-size="5.83" text-anchor="middle" font-weight="bold" transform="rotate(-90 393.3 87.5)">IgG-κ (g/L)</text>
<polyline fill="none" stroke="#000" stroke-width="0.7" stroke-linejoin="round" points="417.5,41.8 429.5,97.6 441.6,110.0 453.6,110.0 465.6,103.8 477.6,97.6 489.7,100.7 501.7,97.6 513.7,66.6"/>
<circle cx="417.5" cy="41.8" r="1.0" fill="#000"/>
<circle cx="429.5" cy="97.6" r="1.0" fill="#000"/>
<circle cx="441.6" cy="110.0" r="1.0" fill="#000"/>
<circle cx="453.6" cy="110.0" r="1.0" fill="#000"/>
<circle cx="465.6" cy="103.8" r="1.0" fill="#000"/>
<circle cx="477.6" cy="97.6" r="1.0" fill="#000"/>
<circle cx="489.7" cy="100.7" r="1.0" fill="#000"/>
<circle cx="501.7" cy="97.6" r="1.0" fill="#000"/>
<circle cx="513.7" cy="66.6" r="1.0" fill="#000"/>
<text x="8.3" y="213.3" font-size="11" text-anchor="middle" font-weight="bold">D</text>
<line x1="23.2" y1="222.8" x2="34.7" y2="222.8" stroke="#000" stroke-width="1.4"/>
<line x1="49.4" y1="222.8" x2="62.5" y2="222.8" stroke="#000" stroke-width="1.4"/>
<line x1="71" y1="222.8" x2="95.5" y2="222.8" stroke="#000" stroke-width="1.4"/>
<line x1="103.2" y1="222.8" x2="107.8" y2="222.8" stroke="#000" stroke-width="1.4"/>
<line x1="109.4" y1="222.8" x2="114" y2="222.8" stroke="#000" stroke-width="1.4"/>
<line x1="118.6" y1="222.8" x2="125.6" y2="222.8" stroke="#000" stroke-width="1.4"/>
<line x1="147.8" y1="222.8" x2="159.8" y2="222.8" stroke="#000" stroke-width="1.4"/>
<line x1="182.4" y1="222.8" x2="219.8" y2="222.8" stroke="#e8151b" stroke-width="1.9"/>
<line x1="223" y1="222.8" x2="239.6" y2="222.8" stroke="#e8151b" stroke-width="1.9"/>
<text x="28.7" y="218.7" font-size="4.5" text-anchor="middle" font-weight="bold">VAD (X4)/HDT</text>
<text x="72.1" y="218.7" font-size="4.5" text-anchor="middle" font-weight="bold">Thalidomide</text>
<text x="154" y="218.7" font-size="4.5" text-anchor="middle" font-weight="bold">Cy/Dex</text>
<text x="107" y="221.4" font-size="4.5" text-anchor="start" font-weight="bold" transform="rotate(-90 107 221.4)">VCD</text>
<text x="113.2" y="221.4" font-size="4.5" text-anchor="start" font-weight="bold" transform="rotate(-90 113.2 221.4)">Len/Dex</text>
<text x="124.3" y="221.4" font-size="4.5" text-anchor="start" font-weight="bold" transform="rotate(-90 124.3 221.4)">Cy/Dex (3)/HDT</text>
<text x="179.6" y="223.4" font-size="4.5" text-anchor="start" font-weight="bold" transform="rotate(-90 179.6 223.4)">ICTD</text>
<text x="200.3" y="191.8" font-size="4.5" text-anchor="middle" font-weight="bold">Dara</text>
<text x="200.3" y="197.9" font-size="4.5" text-anchor="middle" font-weight="bold">8 mg/kg</text>
<text x="231.7" y="191.8" font-size="4.5" text-anchor="middle" font-weight="bold">Dara</text>
<text x="231.7" y="197.9" font-size="4.5" text-anchor="middle" font-weight="bold">16 mg/kg</text>
<line x1="200.3" y1="201.8" x2="200.3" y2="217.9" stroke="#000" stroke-width="0.8"/>
<path d="M198.3 216.3L200.3 219.9L202.3 216.3L200.3 217.3z" fill="#000"/>
<line x1="231.7" y1="201.8" x2="231.7" y2="217.9" stroke="#000" stroke-width="0.8"/>
<path d="M229.7 216.3L231.7 219.9L233.7 216.3L231.7 217.3z" fill="#000"/>
<line x1="223.2" y1="223" x2="223.2" y2="331" stroke="#777" stroke-width="0.5"/>
<line x1="239.6" y1="223" x2="239.6" y2="331" stroke="#777" stroke-width="0.5"/>
<line x1="22.6" y1="222.3" x2="22.6" y2="331.4" stroke="#000" stroke-width="1"/>
<line x1="20.6" y1="330.9" x2="240" y2="330.9" stroke="#000" stroke-width="1"/>
<line x1="20.6" y1="331.0" x2="22.6" y2="331.0" stroke="#000" stroke-width="0.9"/>
<text x="19.8" y="333.2" font-size="5.4" text-anchor="end" font-weight="bold">0</text>
<line x1="20.6" y1="306.9" x2="22.6" y2="306.9" stroke="#000" stroke-width="0.9"/>
<text x="19.8" y="309.09999999999997" font-size="5.4" text-anchor="end" font-weight="bold">1000</text>
<line x1="20.6" y1="282.8" x2="22.6" y2="282.8" stroke="#000" stroke-width="0.9"/>
<text x="19.8" y="285.0" font-size="5.4" text-anchor="end" font-weight="bold">2000</text>
<line x1="20.6" y1="258.7" x2="22.6" y2="258.7" stroke="#000" stroke-width="0.9"/>
<text x="19.8" y="260.9" font-size="5.4" text-anchor="end" font-weight="bold">3000</text>
<line x1="20.6" y1="234.6" x2="22.6" y2="234.6" stroke="#000" stroke-width="0.9"/>
<text x="19.8" y="236.79999999999998" font-size="5.4" text-anchor="end" font-weight="bold">4000</text>
<line x1="23.3" y1="331" x2="23.3" y2="333.3" stroke="#000" stroke-width="0.9"/>
<text x="23.3" y="339.4" font-size="5.4" text-anchor="middle" font-weight="bold">0</text>
<line x1="45.2" y1="331" x2="45.2" y2="333.3" stroke="#000" stroke-width="0.9"/>
<text x="45.2" y="339.4" font-size="5.4" text-anchor="middle" font-weight="bold">18</text>
<line x1="67.2" y1="331" x2="67.2" y2="333.3" stroke="#000" stroke-width="0.9"/>
<text x="67.2" y="339.4" font-size="5.4" text-anchor="middle" font-weight="bold">36</text>
<line x1="91" y1="331" x2="91" y2="333.3" stroke="#000" stroke-width="0.9"/>
<text x="91" y="339.4" font-size="5.4" text-anchor="middle" font-weight="bold">66</text>
<line x1="109.8" y1="331" x2="109.8" y2="333.3" stroke="#000" stroke-width="0.9"/>
<text x="109.8" y="339.4" font-size="5.4" text-anchor="middle" font-weight="bold">78</text>
<line x1="130.8" y1="331" x2="130.8" y2="333.3" stroke="#000" stroke-width="0.9"/>
<text x="130.8" y="339.4" font-size="5.4" text-anchor="middle" font-weight="bold">94</text>
<line x1="152.8" y1="331" x2="152.8" y2="333.3" stroke="#000" stroke-width="0.9"/>
<text x="152.8" y="339.4" font-size="5.4" text-anchor="middle" font-weight="bold">114</text>
<line x1="174.4" y1="331" x2="174.4" y2="333.3" stroke="#000" stroke-width="0.9"/>
<text x="174.4" y="339.4" font-size="5.4" text-anchor="middle" font-weight="bold">124</text>
<line x1="196.1" y1="331" x2="196.1" y2="333.3" stroke="#000" stroke-width="0.9"/>
<text x="196.1" y="339.4" font-size="5.4" text-anchor="middle" font-weight="bold">134</text>
<line x1="217.8" y1="331" x2="217.8" y2="333.3" stroke="#000" stroke-width="0.9"/>
<text x="217.8" y="339.4" font-size="5.4" text-anchor="middle" font-weight="bold">144</text>
<line x1="239.4" y1="331" x2="239.4" y2="333.3" stroke="#000" stroke-width="0.9"/>
<text x="239.4" y="339.4" font-size="5.4" text-anchor="middle" font-weight="bold">154</text>
<text x="132.2" y="347.1" font-size="5.83" text-anchor="middle" font-weight="bold">Patient 2 treatment timeline (Months)</text>
<text x="5.4" y="275.6" font-size="5.83" text-anchor="middle" font-weight="bold" transform="rotate(-90 5.4 275.6)">Light chain kappa (mg/L)</text>
<polyline fill="none" stroke="#000" stroke-width="0.7" stroke-linejoin="round" points="23.9,275.8 25.9,287.7 28.0,297.0 30.1,311.5 32.4,314.7 34.7,318.1 37.1,322.7 39.4,323.2 40.9,328.3 43.2,329.8 45.2,328.0 47.3,326.0 49.4,323.7 51.7,327.1 53.8,324.5 55.9,321.7 57.9,326.8 60.2,327.2 62.5,327.5 65.6,329.4 68.7,330.5 71.0,324.0 73.4,327.5 76.2,328.7 79.0,329.6 81.6,330.3 83.9,329.4 86.2,328.4 88.5,329.5 90.5,324.9 92.9,326.7 95.0,317.5 97.0,310.2 99.0,315.6 100.9,288.6 103.2,292.4 105.2,303.3 107.5,296.3 109.8,227.9 111.7,311.7 114.0,286.3 116.3,291.7 118.3,287.8 120.5,327.7 122.8,318.4 124.8,321.8 126.8,330.6 129.0,330.6 131.2,330.6 133.4,330.6 135.6,330.6 137.6,330.6 139.6,330.2 142.0,323.2 144.3,314.7 146.6,309.3 148.6,303.1 150.8,293.9 152.8,317.0 154.8,326.3 156.9,328.6 159.7,328.9 162.0,329.6 164.3,330.2 166.3,329.8 168.2,329.4 170.2,329.0 172.1,328.6 174.4,310.1 176.4,288.3 178.7,279.7 180.9,267.0 182.9,263.9 184.7,326.3 187.5,328.6 189.8,329.3 192.1,329.8 194.3,329.8 196.5,329.8 198.7,329.8 200.9,329.8 203.1,329.8 205.3,329.8 207.5,329.8 209.7,329.8 211.9,329.8 214.1,329.8 216.3,329.7 218.2,329.2 220.1,328.2 222.0,323.6 223.7,315.8 225.8,325.1 227.8,323.6 230.2,325.9 232.2,326.5 234.2,326.7 236.0,326.7 237.9,326.7 239.7,326.7"/>
<path d="M22.90 274.80h2.0v2.0h-2.0zM24.90 286.70h2.0v2.0h-2.0zM27.00 296.00h2.0v2.0h-2.0zM29.10 310.50h2.0v2.0h-2.0zM31.40 313.70h2.0v2.0h-2.0zM33.70 317.10h2.0v2.0h-2.0zM36.10 321.70h2.0v2.0h-2.0zM38.40 322.20h2.0v2.0h-2.0zM39.90 327.30h2.0v2.0h-2.0zM42.20 328.80h2.0v2.0h-2.0zM44.20 327.00h2.0v2.0h-2.0zM46.30 325.00h2.0v2.0h-2.0zM48.40 322.70h2.0v2.0h-2.0zM50.70 326.10h2.0v2.0h-2.0zM52.80 323.50h2.0v2.0h-2.0zM54.90 320.70h2.0v2.0h-2.0zM56.90 325.80h2.0v2.0h-2.0zM59.20 326.20h2.0v2.0h-2.0zM61.50 326.50h2.0v2.0h-2.0zM64.60 328.40h2.0v2.0h-2.0zM67.70 329.50h2.0v2.0h-2.0zM70.00 323.00h2.0v2.0h-2.0zM72.40 326.50h2.0v2.0h-2.0zM75.20 327.70h2.0v2.0h-2.0zM78.00 328.60h2.0v2.0h-2.0zM80.60 329.30h2.0v2.0h-2.0zM82.90 328.40h2.0v2.0h-2.0zM85.20 327.40h2.0v2.0h-2.0zM87.50 328.50h2.0v2.0h-2.0zM89.50 323.90h2.0v2.0h-2.0zM91.90 325.70h2.0v2.0h-2.0zM94.00 316.50h2.0v2.0h-2.0zM96.00 309.20h2.0v2.0h-2.0zM98.00 314.60h2.0v2.0h-2.0zM99.90 287.60h2.0v2.0h-2.0zM102.20 291.40h2.0v2.0h-2.0zM104.20 302.30h2.0v2.0h-2.0zM106.50 295.30h2.0v2.0h-2.0zM108.80 226.90h2.0v2.0h-2.0zM110.70 310.70h2.0v2.0h-2.0zM113.00 285.30h2.0v2.0h-2.0zM115.30 290.70h2.0v2.0h-2.0zM117.30 286.80h2.0v2.0h-2.0zM119.50 326.70h2.0v2.0h-2.0zM121.80 317.40h2.0v2.0h-2.0zM123.80 320.80h2.0v2.0h-2.0zM125.80 329.60h2.0v2.0h-2.0zM128.00 329.60h2.0v2.0h-2.0zM130.20 329.60h2.0v2.0h-2.0zM132.40 329.60h2.0v2.0h-2.0zM134.60 329.60h2.0v2.0h-2.0zM136.60 329.60h2.0v2.0h-2.0zM138.60 329.20h2.0v2.0h-2.0zM141.00 322.20h2.0v2.0h-2.0zM143.30 313.70h2.0v2.0h-2.0zM145.60 308.30h2.0v2.0h-2.0zM147.60 302.10h2.0v2.0h-2.0zM149.80 292.90h2.0v2.0h-2.0zM151.80 316.00h2.0v2.0h-2.0zM153.80 325.30h2.0v2.0h-2.0zM155.90 327.60h2.0v2.0h-2.0zM158.70 327.90h2.0v2.0h-2.0zM161.00 328.60h2.0v2.0h-2.0zM163.30 329.20h2.0v2.0h-2.0zM165.30 328.80h2.0v2.0h-2.0zM167.20 328.40h2.0v2.0h-2.0zM169.20 328.00h2.0v2.0h-2.0zM171.10 327.60h2.0v2.0h-2.0zM173.40 309.10h2.0v2.0h-2.0zM175.40 287.30h2.0v2.0h-2.0zM177.70 278.70h2.0v2.0h-2.0zM179.90 266.00h2.0v2.0h-2.0zM181.90 262.90h2.0v2.0h-2.0zM183.70 325.30h2.0v2.0h-2.0zM186.50 327.60h2.0v2.0h-2.0zM188.80 328.30h2.0v2.0h-2.0zM191.10 328.80h2.0v2.0h-2.0zM193.30 328.80h2.0v2.0h-2.0zM195.50 328.80h2.0v2.0h-2.0zM197.70 328.80h2.0v2.0h-2.0zM199.90 328.80h2.0v2.0h-2.0zM202.10 328.80h2.0v2.0h-2.0zM204.30 328.80h2.0v2.0h-2.0zM206.50 328.80h2.0v2.0h-2.0zM208.70 328.80h2.0v2.0h-2.0zM210.90 328.80h2.0v2.0h-2.0zM213.10 328.80h2.0v2.0h-2.0zM215.30 328.70h2.0v2.0h-2.0zM217.20 328.20h2.0v2.0h-2.0zM219.10 327.20h2.0v2.0h-2.0zM221.00 322.60h2.0v2.0h-2.0zM222.70 314.80h2.0v2.0h-2.0zM224.80 324.10h2.0v2.0h-2.0zM226.80 322.60h2.0v2.0h-2.0zM229.20 324.90h2.0v2.0h-2.0zM231.20 325.50h2.0v2.0h-2.0zM233.20 325.70h2.0v2.0h-2.0zM235.00 325.70h2.0v2.0h-2.0zM236.90 325.70h2.0v2.0h-2.0zM238.70 325.70h2.0v2.0h-2.0z" fill="#000"/>
<path d="M223.7 344.2V347.2H323.6V344.2" fill="none" stroke="#000" stroke-width="0.8"/>
<text x="273.4" y="354.8" font-size="5.24" text-anchor="middle" font-weight="bold">CD38/CD138 expression before re-challange</text>
<text x="257.8" y="213.3" font-size="11" text-anchor="middle" font-weight="bold">E</text>
<text x="321.2" y="341.2" font-size="5.8" text-anchor="middle" font-weight="bold">CD138</text>
<text x="263.4" y="276.7" font-size="5.8" text-anchor="middle" font-weight="bold" transform="rotate(-90 263.4 276.7)">CD38</text>
<g id="pE">
<path d="M310.8 288.1h.9v.9h-.9zM354.9 272.9h.9v.9h-.9zM345.0 256.4h.9v.9h-.9zM322.6 270.3h.9v.9h-.9zM320.5 296.9h.9v.9h-.9zM370.6 257.4h.9v.9h-.9zM305.3 282.9h.9v.9h-.9zM294.8 282.9h.9v.9h-.9zM330.6 265.9h.9v.9h-.9zM329.7 237.9h.9v.9h-.9zM334.7 238.0h.9v.9h-.9zM302.7 259.8h.9v.9h-.9zM309.2 290.9h.9v.9h-.9zM319.8 263.3h.9v.9h-.9zM330.0 306.8h.9v.9h-.9zM318.1 280.0h.9v.9h-.9zM345.3 277.9h.9v.9h-.9zM289.8 326.8h.9v.9h-.9zM366.6 228.3h.9v.9h-.9zM317.1 281.2h.9v.9h-.9zM339.2 286.7h.9v.9h-.9zM312.0 248.8h.9v.9h-.9zM320.3 294.7h.9v.9h-.9zM294.0 249.4h.9v.9h-.9zM317.5 229.4h.9v.9h-.9zM312.3 262.4h.9v.9h-.9zM327.9 256.6h.9v.9h-.9zM298.6 263.3h.9v.9h-.9zM316.9 257.4h.9v.9h-.9zM318.3 288.5h.9v.9h-.9zM344.1 309.5h.9v.9h-.9zM300.8 262.8h.9v.9h-.9zM302.1 271.3h.9v.9h-.9zM329.5 242.1h.9v.9h-.9zM328.2 271.4h.9v.9h-.9zM277.8 278.4h.9v.9h-.9zM344.3 230.9h.9v.9h-.9zM335.8 276.6h.9v.9h-.9zM328.4 281.7h.9v.9h-.9zM346.7 267.1h.9v.9h-.9zM337.2 263.0h.9v.9h-.9zM334.0 254.1h.9v.9h-.9zM315.6 310.1h.9v.9h-.9zM327.8 268.5h.9v.9h-.9zM292.8 254.6h.9v.9h-.9zM322.3 292.7h.9v.9h-.9zM327.4 283.5h.9v.9h-.9zM317.1 301.7h.9v.9h-.9zM309.4 259.9h.9v.9h-.9zM337.5 273.4h.9v.9h-.9zM311.9 259.3h.9v.9h-.9zM312.3 285.7h.9v.9h-.9zM325.8 245.4h.9v.9h-.9zM327.4 275.9h.9v.9h-.9zM296.0 289.0h.9v.9h-.9zM311.8 264.6h.9v.9h-.9zM335.5 301.1h.9v.9h-.9zM302.9 281.6h.9v.9h-.9zM298.7 322.9h.9v.9h-.9zM307.1 298.3h.9v.9h-.9zM303.8 289.8h.9v.9h-.9zM308.4 283.0h.9v.9h-.9zM316.0 257.3h.9v.9h-.9zM365.3 273.7h.9v.9h-.9zM281.8 290.8h.9v.9h-.9zM280.1 297.3h.9v.9h-.9zM305.3 275.2h.9v.9h-.9zM345.7 274.6h.9v.9h-.9z" fill="#777" opacity="0.4"/>
<path d="M322.9 252 C325 252 326.5 253.6 329 255.6 C331 257 331.2 259.5 332 262 C332.2 266 334 270 334.5 274.3 C334.8 278 333 281.5 331.6 285.2 C330 288 328.5 289.5 326 291.3 C324 293.5 322.6 295.5 321.3 297.5 C319.5 300 317.5 302.5 316 304 C314.6 305.2 313.8 303.8 313.6 301.5 C313.3 299.8 312.8 298.6 311.5 297.5 C308.5 296.3 305.6 295.6 302.8 294.4 C298.5 292 294.5 289.4 290.4 286.7 C287.5 285 284.6 284 282.2 282.2 C281 279.8 282.6 278 282 275.3 C283.5 273.6 285.5 275.4 287.4 274.3 C289.5 273.6 291.6 272.8 293.5 271.3 C295 269.5 295.8 267.2 297.4 265.8 C300 264 303 263.2 305.9 262 C309 260.5 312.2 259.2 315.2 257.4 C317 256.2 318.4 254.7 319.8 253.5 C320.8 252.5 321.8 252 322.9 252Z" fill="#000" stroke="#000" stroke-width="1.6" stroke-linejoin="round"/>
<clipPath id="cE"><path d="M322.9 252 C325 252 326.5 253.6 329 255.6 C331 257 331.2 259.5 332 262 C332.2 266 334 270 334.5 274.3 C334.8 278 333 281.5 331.6 285.2 C330 288 328.5 289.5 326 291.3 C324 293.5 322.6 295.5 321.3 297.5 C319.5 300 317.5 302.5 316 304 C314.6 305.2 313.8 303.8 313.6 301.5 C313.3 299.8 312.8 298.6 311.5 297.5 C308.5 296.3 305.6 295.6 302.8 294.4 C298.5 292 294.5 289.4 290.4 286.7 C287.5 285 284.6 284 282.2 282.2 C281 279.8 282.6 278 282 275.3 C283.5 273.6 285.5 275.4 287.4 274.3 C289.5 273.6 291.6 272.8 293.5 271.3 C295 269.5 295.8 267.2 297.4 265.8 C300 264 303 263.2 305.9 262 C309 260.5 312.2 259.2 315.2 257.4 C317 256.2 318.4 254.7 319.8 253.5 C320.8 252.5 321.8 252 322.9 252Z"/></clipPath>
<g clip-path="url(#cE)">
<rect x="275" y="245" width="70" height="65" fill="url(#gE)"/>
<path d="M322.9 252 C325 252 326.5 253.6 329 255.6 C331 257 331.2 259.5 332 262 C332.2 266 334 270 334.5 274.3 C334.8 278 333 281.5 331.6 285.2 C330 288 328.5 289.5 326 291.3 C324 293.5 322.6 295.5 321.3 297.5 C319.5 300 317.5 302.5 316 304 C314.6 305.2 313.8 303.8 313.6 301.5 C313.3 299.8 312.8 298.6 311.5 297.5 C308.5 296.3 305.6 295.6 302.8 294.4 C298.5 292 294.5 289.4 290.4 286.7 C287.5 285 284.6 284 282.2 282.2 C281 279.8 282.6 278 282 275.3 C283.5 273.6 285.5 275.4 287.4 274.3 C289.5 273.6 291.6 272.8 293.5 271.3 C295 269.5 295.8 267.2 297.4 265.8 C300 264 303 263.2 305.9 262 C309 260.5 312.2 259.2 315.2 257.4 C317 256.2 318.4 254.7 319.8 253.5 C320.8 252.5 321.8 252 322.9 252Z" fill="none" stroke="#000" stroke-width="2.2" filter="url(#b05)"/>
<g filter="url(#b035)">
<path d="M313.53 264.88Q316.58 263.85 319.96 265.48Q323.34 267.12 324.37 271.70Q325.41 276.27 323.17 280.91Q320.94 285.54 316.36 287.06Q311.78 288.59 307.81 287.06Q303.83 285.54 302.74 283.36Q301.65 281.18 303.61 276.93Q305.57 272.68 308.02 269.30Q310.48 265.92 313.53 264.88Z" fill="#fafafa" stroke="#222" stroke-width="1.1"/>
<path d="M313.62 266.31Q316.34 265.38 319.35 266.84Q322.35 268.29 323.28 272.37Q324.20 276.44 322.21 280.56Q320.22 284.69 316.15 286.05Q312.07 287.40 308.53 286.05Q304.99 284.69 304.02 282.75Q303.05 280.81 304.80 277.02Q306.54 273.24 308.73 270.23Q310.91 267.23 313.62 266.31Z" fill="url(#gBandE)"/>
<path d="M313.75 267.85Q316.03 267.05 318.56 268.31Q321.08 269.57 321.86 273.10Q322.63 276.62 320.96 280.19Q319.29 283.76 315.87 284.94Q312.44 286.12 309.47 284.94Q306.50 283.76 305.68 282.08Q304.87 280.40 306.33 277.13Q307.80 273.85 309.63 271.25Q311.47 268.64 313.75 267.85Z" fill="#fafafa" stroke="#333" stroke-width="1.0"/>
<path d="M313.85 269.27Q315.77 268.58 317.89 269.66Q320.01 270.74 320.66 273.77Q321.31 276.79 319.91 279.85Q318.50 282.91 315.63 283.92Q312.76 284.93 310.26 283.92Q307.77 282.91 307.08 281.47Q306.40 280.03 307.63 277.22Q308.86 274.42 310.40 272.18Q311.94 269.95 313.85 269.27Z" fill="url(#gBandE)"/>
<path d="M313.96 270.69Q315.50 270.12 317.22 271.02Q318.93 271.92 319.45 274.44Q319.98 276.96 318.84 279.51Q317.71 282.06 315.39 282.90Q313.08 283.74 311.06 282.90Q309.05 282.06 308.49 280.86Q307.94 279.66 308.94 277.32Q309.93 274.98 311.17 273.12Q312.41 271.26 313.96 270.69Z" fill="#f6f6f6" stroke="#333" stroke-width="1.0"/>
<path d="M314.06 272.11Q315.24 271.66 316.55 272.38Q317.86 273.10 318.26 275.11Q318.67 277.13 317.80 279.17Q316.93 281.21 315.16 281.88Q313.39 282.55 311.84 281.88Q310.30 281.21 309.88 280.25Q309.46 279.29 310.22 277.42Q310.98 275.54 311.93 274.06Q312.88 272.57 314.06 272.11Z" fill="url(#gBandE)"/>
<path d="M314.16 273.42Q314.99 273.06 315.91 273.62Q316.83 274.17 317.11 275.73Q317.39 277.28 316.78 278.85Q316.18 280.43 314.93 280.95Q313.69 281.46 312.61 280.95Q311.53 280.43 311.23 279.69Q310.94 278.95 311.47 277.50Q312.00 276.06 312.67 274.91Q313.33 273.77 314.16 273.42Z" fill="#eee" stroke="#444" stroke-width="0.9"/>
<path d="M314.24 274.72Q314.79 274.47 315.39 274.86Q316.00 275.25 316.18 276.34Q316.37 277.44 315.97 278.54Q315.57 279.65 314.75 280.01Q313.93 280.37 313.22 280.01Q312.51 279.65 312.31 279.13Q312.12 278.61 312.47 277.59Q312.82 276.58 313.26 275.77Q313.70 274.97 314.24 274.72Z" fill="#999"/>
</g>
<path d="M310.5 297 L321 297.5 L316 305 L313 305Z" fill="#000" filter="url(#b05)"/>
<ellipse cx="314.6" cy="280.4" rx="1.9" ry="2.2" fill="#1a1a1a" filter="url(#b05)"/>
<path d="M310.5 297 L321 297.5 L316 305 L313 305Z" fill="#000" filter="url(#b05)"/>
<ellipse cx="316" cy="273.2" rx="0.85" ry="2.3" fill="#fff"/>
</g>
<path d="M322.9 252 C325 252 326.5 253.6 329 255.6 C331 257 331.2 259.5 332 262 C332.2 266 334 270 334.5 274.3 C334.8 278 333 281.5 331.6 285.2 C330 288 328.5 289.5 326 291.3 C324 293.5 322.6 295.5 321.3 297.5 C319.5 300 317.5 302.5 316 304 C314.6 305.2 313.8 303.8 313.6 301.5 C313.3 299.8 312.8 298.6 311.5 297.5 C308.5 296.3 305.6 295.6 302.8 294.4 C298.5 292 294.5 289.4 290.4 286.7 C287.5 285 284.6 284 282.2 282.2 C281 279.8 282.6 278 282 275.3 C283.5 273.6 285.5 275.4 287.4 274.3 C289.5 273.6 291.6 272.8 293.5 271.3 C295 269.5 295.8 267.2 297.4 265.8 C300 264 303 263.2 305.9 262 C309 260.5 312.2 259.2 315.2 257.4 C317 256.2 318.4 254.7 319.8 253.5 C320.8 252.5 321.8 252 322.9 252Z" fill="none" stroke="#000" stroke-width="2.6" stroke-linejoin="round" filter="url(#b03)"/>
<path d="M268.2 260.6 C271.2 262.4 272.4 268 272.5 276 C272.6 284 272.5 291 271 294 C270 295.2 269 295.6 268.2 295.8Z" fill="#c4c4c4" stroke="#000" stroke-width="1.4"/>
<path d="M268.8 265 C270.2 268 270.6 274 270.6 279 C270.6 285 270.4 289 269.2 292" fill="none" stroke="#222" stroke-width="0.7"/>
<path d="M288.2 330 C291 327.8 294 328.6 297 327.6 C301 326.2 305 326.6 309 326 C313 325.4 317 325.6 320 326.6 C322.5 327.4 325 328.2 326.8 330Z" fill="#aaa" stroke="#000" stroke-width="1.5"/>
<path d="M300 330 C303 328 309 327.4 314 327.6 C317 327.8 319 328.6 320 330Z" fill="#555"/>
<path d="M268 327.5 L270 330 L268 330.2Z" fill="#000"/>
<rect x="267.7" y="223" width="107.9" height="107.2" fill="none" stroke="#b4b4b4" stroke-width="1.0"/>
</g>
<text x="397" y="213.6" font-size="11" text-anchor="middle" font-weight="bold">F</text>
<line x1="411.4" y1="222.7" x2="411.4" y2="331.4" stroke="#000" stroke-width="1"/>
<line x1="409.4" y1="330.9" x2="520" y2="330.9" stroke="#000" stroke-width="1"/>
<line x1="409.4" y1="330.8" x2="411.4" y2="330.8" stroke="#000" stroke-width="0.9"/>
<text x="408.6" y="333.0" font-size="5.4" text-anchor="end" font-weight="bold">0</text>
<line x1="409.4" y1="315.44" x2="411.4" y2="315.44" stroke="#000" stroke-width="0.9"/>
<text x="408.6" y="317.64" font-size="5.4" text-anchor="end" font-weight="bold">100</text>
<line x1="409.4" y1="300.08000000000004" x2="411.4" y2="300.08000000000004" stroke="#000" stroke-width="0.9"/>
<text x="408.6" y="302.28000000000003" font-size="5.4" text-anchor="end" font-weight="bold">200</text>
<line x1="409.4" y1="284.72" x2="411.4" y2="284.72" stroke="#000" stroke-width="0.9"/>
<text x="408.6" y="286.92" font-size="5.4" text-anchor="end" font-weight="bold">300</text>
<line x1="409.4" y1="269.36" x2="411.4" y2="269.36" stroke="#000" stroke-width="0.9"/>
<text x="408.6" y="271.56" font-size="5.4" text-anchor="end" font-weight="bold">400</text>
<line x1="409.4" y1="254.0" x2="411.4" y2="254.0" stroke="#000" stroke-width="0.9"/>
<text x="408.6" y="256.2" font-size="5.4" text-anchor="end" font-weight="bold">500</text>
<line x1="409.4" y1="238.64000000000001" x2="411.4" y2="238.64000000000001" stroke="#000" stroke-width="0.9"/>
<text x="408.6" y="240.84" font-size="5.4" text-anchor="end" font-weight="bold">600</text>
<line x1="409.4" y1="223.28000000000003" x2="411.4" y2="223.28000000000003" stroke="#000" stroke-width="0.9"/>
<text x="408.6" y="225.48000000000002" font-size="5.4" text-anchor="end" font-weight="bold">700</text>
<line x1="417.7" y1="331" x2="417.7" y2="333.3" stroke="#000" stroke-width="0.9"/>
<text x="417.7" y="339.2" font-size="5.4" text-anchor="middle" font-weight="bold">147</text>
<line x1="431.34999999999997" y1="331" x2="431.34999999999997" y2="333.3" stroke="#000" stroke-width="0.9"/>
<text x="431.34999999999997" y="339.2" font-size="5.4" text-anchor="middle" font-weight="bold">148</text>
<line x1="445.0" y1="331" x2="445.0" y2="333.3" stroke="#000" stroke-width="0.9"/>
<text x="445.0" y="339.2" font-size="5.4" text-anchor="middle" font-weight="bold">149</text>
<line x1="458.65" y1="331" x2="458.65" y2="333.3" stroke="#000" stroke-width="0.9"/>
<text x="458.65" y="339.2" font-size="5.4" text-anchor="middle" font-weight="bold">150</text>
<line x1="472.3" y1="331" x2="472.3" y2="333.3" stroke="#000" stroke-width="0.9"/>
<text x="472.3" y="339.2" font-size="5.4" text-anchor="middle" font-weight="bold">151</text>
<line x1="485.95" y1="331" x2="485.95" y2="333.3" stroke="#000" stroke-width="0.9"/>
<text x="485.95" y="339.2" font-size="5.4" text-anchor="middle" font-weight="bold">152</text>
<line x1="499.6" y1="331" x2="499.6" y2="333.3" stroke="#000" stroke-width="0.9"/>
<text x="499.6" y="339.2" font-size="5.4" text-anchor="middle" font-weight="bold">153</text>
<line x1="513.25" y1="331" x2="513.25" y2="333.3" stroke="#000" stroke-width="0.9"/>
<text x="513.25" y="339.2" font-size="5.4" text-anchor="middle" font-weight="bold">154</text>
<text x="465.3" y="346.3" font-size="5.83" text-anchor="middle" font-weight="bold">Re-challange timeline (Months)</text>
<text x="393.2" y="277" font-size="5.83" text-anchor="middle" font-weight="bold" transform="rotate(-90 393.2 277)">Light chain kappa (mg/L)</text>
<polyline fill="none" stroke="#000" stroke-width="0.7" stroke-linejoin="round" points="417.9,235.2 431.4,293.6 445.2,287.7 458.9,300.1 472.2,302.4 485.9,302.8 499.5,302.7 512.9,302.0"/>
<circle cx="417.9" cy="235.2" r="1.0" fill="#000"/>
<circle cx="431.4" cy="293.6" r="1.0" fill="#000"/>
<circle cx="445.2" cy="287.7" r="1.0" fill="#000"/>
<circle cx="458.9" cy="300.1" r="1.0" fill="#000"/>
<circle cx="472.2" cy="302.4" r="1.0" fill="#000"/>
<circle cx="485.9" cy="302.8" r="1.0" fill="#000"/>
<circle cx="499.5" cy="302.7" r="1.0" fill="#000"/>
<circle cx="512.9" cy="302.0" r="1.0" fill="#000"/>
</svg>
</body></html>
